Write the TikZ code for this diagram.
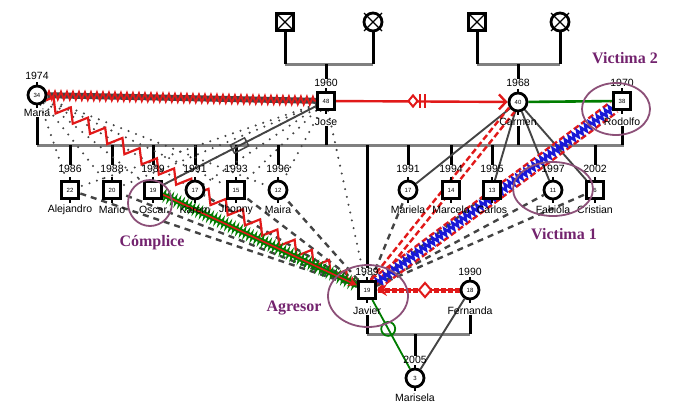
\documentclass[tikz,border=0pt]{standalone}
\usepackage{fontspec}
\setmainfont{Liberation Sans}
\newfontfamily\labfont{Liberation Serif}
\usetikzlibrary{decorations.pathmorphing,arrows.meta,calc,shapes.geometric}
\pgfdeclarelayer{bg}
\pgfsetlayers{bg,main}
\definecolor{lgray}{RGB}{128,128,128}
\definecolor{dgray}{RGB}{68,68,68}
\definecolor{gred}{RGB}{225,25,25}
\definecolor{ggreen}{RGB}{0,125,0}
\definecolor{gblue}{RGB}{25,25,215}
\definecolor{purp}{RGB}{115,35,110}
\definecolor{ellc}{RGB}{140,80,120}
\newcommand{\gperson}[9]{%
  \node[#2] (#1) at (#3,#4) {#5};
  \node[lbl] (#1yr) at (#3,#7) {#6};
  \node[lbl] (#1nm) at (#3,#9) {#8};
  \draw[line width=2.4pt] (#1.north) -- ++(0,-3) (#1.south) -- ++(0,3);
}
\begin{document}
\begin{tikzpicture}[x=1pt,y=-1pt,
  msq/.style={rectangle,draw=black,fill=white,line width=2.8pt,minimum size=17pt,inner sep=0pt,font=\fontsize{6}{6}\selectfont},
  fcir/.style={circle,draw=black,fill=white,line width=2.8pt,minimum size=18pt,inner sep=0pt,font=\fontsize{6}{6}\selectfont},
  lbl/.style={font=\fontsize{10.5}{12}\selectfont,inner sep=0pt},
  vfam/.style={line width=3pt,black},
  hfam/.style={line width=3pt,lgray},
  dotrel/.style={dgray,line width=2.3pt,line cap=round,dash pattern=on 0pt off 8pt},
  dashrel/.style={dgray,line width=2.4pt,dash pattern=on 6pt off 5pt},
  solrel/.style={dgray,line width=1.9pt},
  tagtext/.style={purp,font=\labfont\bfseries\fontsize{16}{18}\selectfont},
  ellip/.style={ellc,line width=1.8pt},
  reddash/.style={gred,line width=2.4pt,dash pattern=on 6pt off 3pt},
]
\useasboundingbox (0,0) rectangle (687,413);

% grandparents
\node[msq] (gpa1) at (285,22) {};
\node[fcir] (gpa2) at (373,22) {};
\node[msq] (gpb1) at (477,22) {};
\node[fcir] (gpb2) at (560,22) {};
\foreach \g in {gpa1,gpb1} {\draw[line width=1.2pt] ($(\g.center)+(-7,-7)$) -- ($(\g.center)+(7,7)$) ($(\g.center)+(7,-7)$) -- ($(\g.center)+(-7,7)$);}
\foreach \g in {gpa2,gpb2} {\draw[line width=1.2pt] ($(\g.center)+(-9,-9)$) -- ($(\g.center)+(9,9)$) ($(\g.center)+(9,-9)$) -- ($(\g.center)+(-9,9)$);}

% persons
\gperson{maria}{fcir}{37}{95}{34}{1974}{76}{Maria}{113}
\gperson{jose}{msq}{326}{101}{48}{1960}{83}{Jose}{122}
\gperson{carmen}{fcir}{518}{102}{40}{1968}{83}{Carmen}{122}
\gperson{rodolfo}{msq}{622}{101}{38}{1970}{83}{Rodolfo}{122}
\gperson{alejandro}{msq}{70}{190}{22}{1986}{169}{Alejandro}{210}
\gperson{mario}{msq}{112}{190}{20}{1988}{169}{Mario}{210}
\gperson{oscar}{msq}{153}{190}{19}{1989}{169}{Oscar}{210}
\gperson{karem}{fcir}{195}{190}{17}{1991}{169}{Karem}{210}
\gperson{jhonny}{msq}{236}{190}{15}{1993}{169}{Jhonny}{210}
\gperson{maira}{fcir}{278}{190}{12}{1996}{169}{Maira}{210}
\gperson{mariela}{fcir}{408}{190}{17}{1991}{169}{Mariela}{210}
\gperson{marcelo}{msq}{451}{190}{14}{1994}{169}{Marcelo}{210}
\gperson{carlos}{msq}{492}{190}{13}{1995}{169}{Carlos}{210}
\gperson{fabiola}{fcir}{553}{190}{11}{1997}{169}{Fabiola}{210}
\gperson{cristian}{msq}{595}{190}{6}{2002}{169}{Cristian}{210}
\gperson{javier}{msq}{367}{290}{19}{1989}{272}{Javier}{311}
\gperson{fernanda}{fcir}{470}{290}{18}{1990}{272}{Fernanda}{311}
\gperson{marisela}{fcir}{415}{378}{3}{2005}{360}{Marisela}{398}

\begin{pgfonlayer}{bg}
% family lines
\coordinate (fa1) at (285,64); \coordinate (fa2) at (373,64); \coordinate (fa3) at (326,64);
\coordinate (fb1) at (477,64); \coordinate (fb2) at (560,64); \coordinate (fb3) at (518,64);
\draw[hfam] (fa1) -- (fa2);
\draw[hfam] (fb1) -- (fb2);
\draw[vfam] (gpa1) -- (fa1);
\draw[vfam] (gpa2) -- (fa2);
\draw[vfam] (gpb1) -- (fb1);
\draw[vfam] (gpb2) -- (fb2);
\draw[vfam] (fa3) -- (joseyr.north);
\draw[vfam] (fb3) -- (carmenyr.north);
\coordinate (sl) at (37,145); \coordinate (sr) at (624,145);
\draw[hfam] (sl) -- (sr);
\draw[vfam] (marianm.south) -- (sl);
\coordinate (sjose) at (326,145); \draw[vfam] (josenm.south) -- (sjose);
\coordinate (scarmen) at (518,145); \draw[vfam] (carmennm.south) -- (scarmen);
\coordinate (srodolfo) at (622,145); \draw[vfam] (rodolfonm.south) -- (srodolfo);
\foreach \c/\x in {alejandro/70,mario/112,oscar/153,karem/195,jhonny/236,maira/278,mariela/408,marcelo/451,carlos/492,cristian/595,javier/367}
  {\coordinate (s\c) at (\x,145); \draw[vfam] (s\c) -- (\c yr.north);}
\coordinate (fj1) at (367,334); \coordinate (fj2) at (470,334); \coordinate (fj3) at (415,334);
\draw[hfam] (fj1) -- (fj2);
\draw[vfam] (javiernm.south) -- (fj1);
\draw[vfam] (fernandanm.south) -- (fj2);
\draw[vfam] (fj3) -- (mariselayr.north);

% distant (dotted) relations
\foreach \c in {alejandro,mario,oscar,karem,jhonny,maira}
  {\draw[dotrel] (maria) -- (\c); \draw[dotrel] (jose) -- (\c);}
\draw[dotrel] (jose) -- (javier);
% dashed relations of Javier
\foreach \c in {alejandro,mario,oscar,karem,jhonny,maira,mariela,carlos,fabiola,cristian}
  {\draw[dashrel] (javier) -- (\c);}
% Carmen to children
\foreach \c in {mariela,carlos,fabiola,cristian}
  {\draw[solrel] (carmen) -- (\c);}
% Jose - Oscar with box
\draw[solrel] (jose) -- (oscar) node[pos=0.5,sloped,draw=dgray,line width=1.5pt,minimum width=16pt,minimum height=9pt,inner sep=0pt] (jobox) {};

% Maria - Jose
\draw[dgray,line width=6pt] (maria) -- (jose);
\draw[gred,line width=1.8pt,decorate,decoration={zigzag,segment length=6pt,amplitude=4pt}] (maria) -- (jose);
% Jose - Carmen
\draw[gred,line width=2.4pt,-{Straight Barb[length=7pt,width=15pt]}] (jose) -- (carmen);
\node[diamond,draw=gred,fill=white,line width=2pt,minimum width=10pt,minimum height=12pt,inner sep=0pt] (jcdia) at (413,101) {};
\coordinate (jcb1) at (420,101); \coordinate (jcb2) at (424.5,101);
\draw[gred,line width=2pt] (jcb1) ++(0,-7) -- ++(0,14) (jcb2) ++(0,-7) -- ++(0,14);
% Carmen - Rodolfo
\draw[ggreen,line width=2.6pt] (carmen) -- (rodolfo);

% Maria - Javier red zigzag
\draw[gred,line width=2.2pt,decorate,decoration={zigzag,segment length=20pt,amplitude=6.5pt,post length=8pt},-{Stealth[length=9pt,width=9pt]}] (maria) -- (javier);
% Oscar - Javier
\draw[ggreen,line width=5pt] (oscar) -- (javier);
\draw[ggreen,line width=1.4pt,decorate,decoration={zigzag,segment length=4pt,amplitude=4.5pt}] (oscar) -- (javier);
\draw[gred,line width=1.6pt,-{Stealth[length=9pt,width=9pt]}] (oscar) -- (javier);
% Javier - Carmen hostile
\draw[reddash,shorten <=10pt,shorten >=10pt] ($(javier)!3.5pt!90:(carmen)$) -- ($(carmen)!3.5pt!-90:(javier)$);
\draw[reddash,shorten <=10pt,shorten >=10pt] ($(javier)!3.5pt!-90:(carmen)$) -- ($(carmen)!3.5pt!90:(javier)$);
% Javier - Rodolfo violence
\draw[reddash,shorten <=10pt,shorten >=10pt] ($(javier)!6pt!90:(rodolfo)$) -- ($(rodolfo)!6pt!-90:(javier)$);
\draw[reddash,shorten <=10pt,shorten >=10pt] ($(javier)!6pt!-90:(rodolfo)$) -- ($(rodolfo)!6pt!90:(javier)$);
\draw[gblue,line width=2.6pt,decorate,decoration={zigzag,segment length=5pt,amplitude=3pt}] (javier) -- (rodolfo);
% Javier - Fernanda
\draw[gred,line width=5pt,dash pattern=on 5pt off 2pt] (fernanda) -- (javier);
\draw[gred,line width=1.2pt,-{Stealth[length=10pt,width=12pt]}] (fernanda) -- (javier);
\node[diamond,draw=gred,fill=white,line width=2pt,minimum width=13pt,minimum height=15pt,inner sep=0pt] (jfdia) at (425,290) {};
% Javier - Marisela, Fernanda - Marisela
\draw[ggreen,line width=1.8pt] (javier) -- (marisela) node[pos=0.42,circle,draw=ggreen,line width=1.8pt,minimum size=14pt,inner sep=0pt] (jmcirc) {};
\draw[solrel] (fernanda) -- (marisela);
\end{pgfonlayer}

% ellipses and tags
\draw[ellip] (616,109) ellipse [x radius=34pt, y radius=26pt];
\draw[ellip] (150,203) ellipse [x radius=22pt, y radius=23pt];
\draw[ellip] (553,189) ellipse [x radius=40pt, y radius=27pt];
\draw[ellip] (368,296) ellipse [x radius=40pt, y radius=31pt];
\node[tagtext] (t1) at (625,58) {Victima 2};
\node[tagtext] (t2) at (152,243) {Cómplice};
\node[tagtext] (t3) at (564,234) {Victima 1};
\node[tagtext] (t4) at (294,308) {Agresor};
\end{tikzpicture}
\end{document}
